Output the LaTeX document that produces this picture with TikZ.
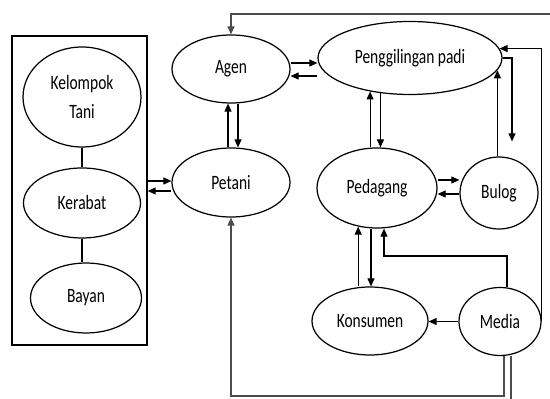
\documentclass[tikz,border=0pt]{standalone}
\usepackage{fontspec}
\usepackage{graphicx}
\setmainfont{Carlito}
\usetikzlibrary{positioning,arrows.meta,shapes.geometric}
\newcommand{\tulis}[1]{\scalebox{0.76}[1]{#1}}
\tikzset{
  simpul/.style={draw=black, ellipse, line width=0.7pt, inner sep=0pt, align=center,
                 font=\fontsize{11.6}{16.4}\selectfont},
  bingkai/.style={draw=black, line width=0.8pt, inner sep=0pt},
  garis/.style={line width=0.6pt},
  panah/.style={-{Triangle[length=1.6mm, width=1.4mm]}, line width=0.6pt},
  panahabu/.style={panah, draw=black!70},
}

\begin{document}
\begin{tikzpicture}
        \useasboundingbox (0,0) rectangle (11,-7.98);
        % ---------------- kelompok petani ----------------
        \node[bingkai, minimum width=2.70cm, minimum height=6.18cm] (kotak) at (1.59,-3.81) {};
        \node[simpul, minimum width=2.36cm, minimum height=2.0cm] (kelompok) at (1.64,-1.94) {\tulis{Kelompok}\\ \tulis{Tani}};
        \node[simpul, minimum width=2.34cm, minimum height=1.40cm] (kerabat) at (1.64,-4.06) {\tulis{Kerabat}};
        \node[simpul, minimum width=2.22cm, minimum height=1.40cm] (bayan) at (1.72,-5.96) {\tulis{Bayan}};
        \draw[garis] (kelompok.south) -- (kerabat.north);
        \draw[garis] (kerabat.south) -- (kerabat.south |- bayan.north);
        % ---------------- pelaku pasar ----------------
        \node[simpul, minimum width=2.36cm, minimum height=1.36cm] (agen) at (4.62,-1.38) {\tulis{Agen}};
        \node[simpul, minimum width=2.36cm, minimum height=1.38cm] (petani) at (4.62,-3.65) {\tulis{Petani}};
        \node[simpul, minimum width=3.68cm, minimum height=1.46cm] (penggilingan) at (8.20,-1.16) {\tulis{Penggilingan padi}};
        \node[simpul, minimum width=2.40cm, minimum height=1.60cm] (pedagang) at (7.54,-3.76) {\tulis{Pedagang}};
        \node[simpul, minimum width=1.56cm, minimum height=1.44cm] (bulog) at (9.98,-3.86) {\tulis{Bulog}};
        \node[simpul, minimum width=2.32cm, minimum height=1.36cm] (konsumen) at (7.40,-6.42) {\tulis{Konsumen}};
        \node[simpul, minimum width=1.64cm, minimum height=1.36cm] (media) at (10.0,-6.43) {\tulis{Media}};
        \coordinate (atas) at (11,-0.28);
        \coordinate (bawah) at (10.22,-7.98);
        % ---------------- alur ----------------
        \draw[panah] (kotak.east |- 0,-3.62) -- (petani.west |- 0,-3.62);
        \draw[panah] (petani.west |- 0,-3.82) -- (kotak.east |- 0,-3.82);
        \draw[panah] (petani.north -| 4.56,0) -- (agen.south -| 4.56,0);
        \draw[panah] (agen.south -| 4.76,0) -- (petani.north -| 4.76,0);
        \draw[panah] (agen.east |- 0,-1.26) -- (penggilingan.west |- 0,-1.26);
        \draw[panah] (penggilingan.west |- 0,-1.52) -- (agen.east |- 0,-1.52);
        \draw[panah] (pedagang.north -| penggilingan.220) -- (penggilingan.220);
        \draw[panah] (penggilingan.230) -- (penggilingan.230 |- pedagang.north);
        \draw[panah] (pedagang.east |- 0,-3.60) -- (bulog.west |- 0,-3.60);
        \draw[panah] (bulog.west |- 0,-3.88) -- (pedagang.east |- 0,-3.88);
        \draw[panah] (bulog.north -| penggilingan.-8) -- (penggilingan.-8);
        \draw[panah, shorten >=3mm] (penggilingan.east) -| (bulog.north -| 10.24,0);
        \draw[panah] (konsumen.north -| pedagang.244) -- (pedagang.244);
        \draw[panah] (pedagang.south -| 7.42,0) -- (konsumen.north -| 7.42,0);
        \draw[panah] (media.north -| 10.14,0) |- (7.68,-5.12) -- (pedagang.south -| 7.68,0);
        \draw[panah] (media.west) -- (konsumen.east |- media.west);
        \draw[panah] (media.east) -- (media.east |- penggilingan.6) -- (penggilingan.6);
        \draw[panahabu] (atas) -| (agen.north);
        \draw[panahabu] (media.south -| 10.08,0) |- (petani.south |- 0,-7.92) -- (petani.south);
        \draw[garis, draw=black!70] (media.south -| 10.22,0) -- (bawah);
\end{tikzpicture}
\end{document}
